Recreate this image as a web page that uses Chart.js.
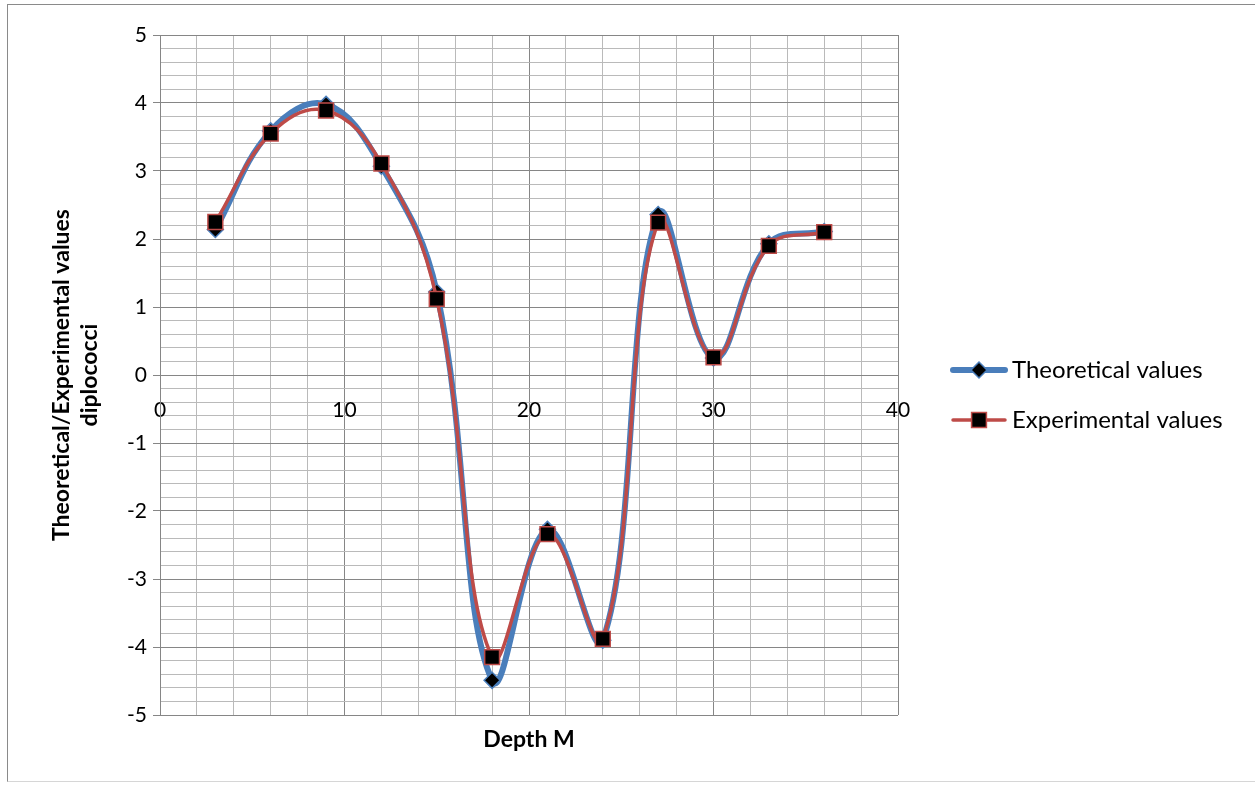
<!DOCTYPE html>
<html>
<head>
<meta charset="utf-8">
<script src="https://cdn.jsdelivr.net/npm/chart.js@4.4.1/dist/chart.umd.min.js"></script>
<style>
  html, body { margin: 0; padding: 0; background: #ffffff; }
  #wrap { position: relative; width: 1255px; height: 785px; overflow: hidden; }
  #frame { position: absolute; left: 7px; top: 4px; width: 1260px; height: 778px;
           border-left: 1.5px solid #8a8a8a; border-top: 1.5px solid #8a8a8a;
           border-bottom: 1px solid #d6d6d6; box-sizing: border-box; }
  #chart { position: absolute; left: 0; top: 0; }
</style>
</head>
<body>
<div id="wrap">
  <div id="frame"></div>
  <canvas id="chart" width="1255" height="785"></canvas>
</div>
<script>
// Depth (m) of each sample and the two diplococci series
const depth = [3, 6, 9, 12, 15, 18, 21, 24, 27, 30, 33, 36];
const theoretical = [2.14, 3.59, 3.98, 3.07, 1.22, -4.49, -2.27, -3.90, 2.36, 0.25, 1.93, 2.11];
const experimental = [2.25, 3.55, 3.89, 3.11, 1.12, -4.15, -2.34, -3.88, 2.24, 0.26, 1.90, 2.10];

// Labelled ticks on each axis
const xTickLabels = [0, 10, 20, 30, 40];
const yTickLabels = [5, 4, 3, 2, 1, 0, -1, -2, -3, -4, -5];

const seriesNames = ['Theoretical values', 'Experimental values'];
const xTitle = 'Depth M';
const yTitle = ['Theoretical/Experimental values', 'diplococci'];

const FONT = 'Lato, "Open Sans", "Liberation Sans", sans-serif';
const BLUE = '#4a7ebb';
const RED = '#be4b48';
const MAJOR = '#868686';
const MINOR = '#bababa';

const isLabelled = (list, v) => list.some(t => Math.abs(t - v) < 1e-6);

function points(xs, ys) {
  return xs.map((x, i) => ({ x: x, y: ys[i] }));
}

// Axis titles and the side legend (line + marker swatch per series)
const decorations = {
  id: 'decorations',
  afterDraw(chart) {
    const ctx = chart.ctx;
    const area = chart.chartArea;
    ctx.save();
    ctx.fillStyle = '#000';
    ctx.font = 'bold 23px ' + FONT;
    ctx.textAlign = 'center';
    ctx.textBaseline = 'middle';
    ctx.fillText(xTitle, (area.left + area.right) / 2, 740);

    ctx.save();
    ctx.translate(62, (area.top + area.bottom) / 2);
    ctx.rotate(-Math.PI / 2);
    ctx.fillText(yTitle[0], 0, 0);
    ctx.fillText(yTitle[1], 0, 28);
    ctx.restore();

    chart.data.datasets.forEach((ds, i) => {
      const y = 370 + i * 50;
      ctx.strokeStyle = ds.borderColor;
      ctx.lineWidth = ds.borderWidth;
      ctx.lineCap = 'round';
      ctx.beginPath();
      ctx.moveTo(953, y);
      ctx.lineTo(1005, y);
      ctx.stroke();
      ctx.fillStyle = ds.pointBackgroundColor;
      ctx.strokeStyle = ds.pointBorderColor;
      ctx.lineWidth = ds.pointBorderWidth;
      Chart.helpers.drawPoint(ctx, {
        pointStyle: ds.pointStyle,
        radius: ds.pointRadius,
        rotation: 0,
        borderWidth: ds.pointBorderWidth
      }, 979, y);
      ctx.fillStyle = '#000';
      ctx.font = '24px ' + FONT;
      ctx.textAlign = 'left';
      ctx.textBaseline = 'middle';
      ctx.fillText(ds.label, 1012, y);
    });
    ctx.restore();
  }
};

new Chart(document.getElementById('chart'), {
  type: 'line',
  data: {
    datasets: [
      {
        label: seriesNames[0],
        data: points(depth, theoretical),
        borderColor: BLUE,
        borderWidth: 6,
        tension: 0.4,
        pointStyle: 'rectRot',
        pointRadius: 8,
        pointBackgroundColor: '#000000',
        pointBorderColor: BLUE,
        pointBorderWidth: 1.5,
        order: 2
      },
      {
        label: seriesNames[1],
        data: points(depth, experimental),
        borderColor: RED,
        borderWidth: 3.5,
        tension: 0.4,
        pointStyle: 'rect',
        pointRadius: 10.5,
        pointBackgroundColor: '#000000',
        pointBorderColor: RED,
        pointBorderWidth: 1.5,
        order: 1
      }
    ]
  },
  options: {
    responsive: false,
    animation: false,
    devicePixelRatio: 1,
    layout: { padding: { left: 8, top: 35, right: 357, bottom: 70 } },
    plugins: {
      legend: { display: false },
      tooltip: { enabled: false }
    },
    scales: {
      x: {
        type: 'linear',
        position: { y: 0 },
        min: 0,
        max: 40,
        ticks: {
          stepSize: 2,
          autoSkip: false,
          maxTicksLimit: 100,
          maxRotation: 0,
          padding: 23,
          color: '#000',
          font: { family: FONT, size: 21 },
          callback: v => isLabelled(xTickLabels, v) ? String(Math.round(v)) : ''
        },
        grid: {
          drawTicks: false,
          lineWidth: 1,
          color: c => isLabelled(xTickLabels, c.tick.value) ? MAJOR : MINOR
        },
        border: { display: true, color: MAJOR, width: 1 }
      },
      y: {
        type: 'linear',
        position: 'left',
        min: -5,
        max: 5,
        afterFit: s => { s.width = 152; },
        ticks: {
          stepSize: 0.2,
          autoSkip: false,
          maxTicksLimit: 100,
          padding: 6,
          color: '#000',
          font: { family: FONT, size: 21 },
          callback: v => isLabelled(yTickLabels, v) ? String(Math.round(v)) : ''
        },
        grid: {
          drawTicks: true,
          tickLength: 7,
          lineWidth: 1,
          color: c => isLabelled(yTickLabels, c.tick.value) ? MAJOR : MINOR,
          tickColor: c => isLabelled(yTickLabels, c.tick.value) ? MAJOR : 'rgba(0,0,0,0)'
        },
        border: { display: true, color: MAJOR, width: 1 }
      }
    }
  },
  plugins: [decorations]
});
</script>
</body>
</html>
